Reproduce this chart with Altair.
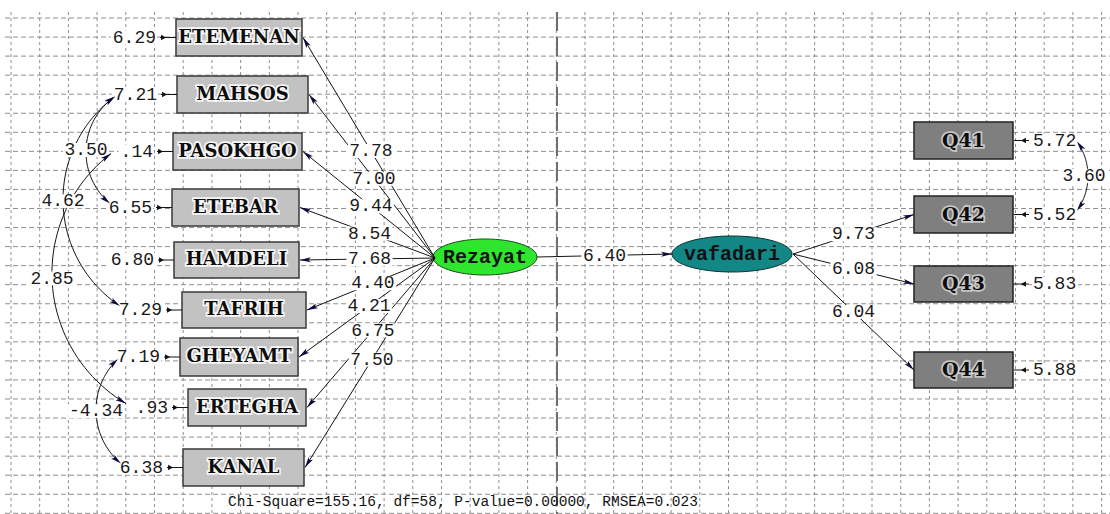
import math
import pandas as pd
import altair as alt

# ---------------- data ----------------
left_items = ["ETEMENAN", "MAHSOS", "PASOKHGO", "ETEBAR", "HAMDELI",
              "TAFRIH", "GHEYAMT", "ERTEGHA", "KANAL"]
left_tvalues = ["7.78", "7.00", "9.44", "8.54", "7.68", "4.40", "4.21", "6.75", "7.50"]
left_errors = ["6.29", "7.21", ".14", "6.55", "6.80", "7.29", "7.19", ".93", "6.38"]

right_items = ["Q41", "Q42", "Q43", "Q44"]
right_tvalues = ["", "9.73", "6.08", "6.04"]      # Q41 is the fixed reference path (not drawn)
right_errors = ["5.72", "5.52", "5.83", "5.88"]

latent_names = ["Rezayat", "vafadari"]
structural_tvalue = "6.40"

cov_from = ["MAHSOS", "MAHSOS", "PASOKHGO", "GHEYAMT", "Q41"]
cov_to = ["ETEBAR", "TAFRIH", "ERTEGHA", "KANAL", "Q42"]
cov_values = ["3.50", "4.62", "2.85", "-4.34", "3.60"]

fit_text = "Chi-Square=155.16, df=58, P-value=0.00000, RMSEA=0.023"

# ---------------- layout (pixels) ----------------
W, H = 1110, 514
left_box_x0 = [176, 177, 173, 172, 174, 182, 180, 188, 183]
left_box_x1 = [302, 308, 302, 299, 299, 306, 298, 306, 304]
left_box_y0 = [19, 76, 133, 189, 242, 292, 338, 389, 449]
left_box_y1 = [56, 113, 170, 226, 278, 328, 376, 426, 486]
right_box_x = (914, 1013)
right_box_y0 = [122, 196, 266, 352]
right_box_y1 = [159, 233, 302, 388]
lat_cx = [485, 732]
lat_cy = [257, 254]
lat_w = [104, 120]
lat_h = [36, 36]
cov_apex_x = [86, 63, 52, 96, 1088]
cov_label_dx = [0, 0, 0, 0, -4]
grid_x0, grid_dx, grid_nx = 11, 28.7, 39
grid_y0, grid_dy, grid_ny = 18, 19.05, 27
grid_top = 12
divider_x = 557
ERR_GAP = 20
NUM_FONT = "Liberation Mono"
NUM_SIZE = 18
CHAR_W = 0.6 * NUM_SIZE

XS = alt.Scale(domain=[0, W], nice=False, zero=False)
YS = alt.Scale(domain=[0, H], nice=False, zero=False, reverse=True)


def X(f):
    return alt.X(f, type="quantitative", scale=XS, axis=None)


def Y(f):
    return alt.Y(f, type="quantitative", scale=YS, axis=None)


def ang(dx, dy):
    return math.degrees(math.atan2(dx, -dy)) % 360


nodes = {}
for i, n in enumerate(left_items):
    nodes[n] = dict(x0=left_box_x0[i], x1=left_box_x1[i], y0=left_box_y0[i],
                    y1=left_box_y1[i], side="L")
for i, n in enumerate(right_items):
    nodes[n] = dict(x0=right_box_x[0], x1=right_box_x[1], y0=right_box_y0[i],
                    y1=right_box_y1[i], side="R")
for n in nodes.values():
    n["cx"] = (n["x0"] + n["x1"]) / 2
    n["cy"] = (n["y0"] + n["y1"]) / 2
    if n["side"] == "L":
        n["lab"] = n["x0"] - ERR_GAP
        n["tipx"] = n["lab"] - 42
    else:
        n["lab"] = n["x1"] + ERR_GAP
        n["tipx"] = n["lab"] + 44

lines, heads, small_heads, labels = [], [], [], []


def arrow(x0, y0, x1, y1, label=None, t=0.5):
    lines.append(dict(x=x0, y=y0, x2=x1, y2=y1))
    heads.append(dict(x=x1, y=y1, a=ang(x1 - x0, y1 - y0)))
    if label:
        labels.append(dict(t=label, x=x0 + t * (x1 - x0), y=y0 + t * (y1 - y0), al="center"))


# measurement paths, left latent
LX, LY = lat_cx[0] - lat_w[0] / 2 + 2, lat_cy[0] + 1
for i, n in enumerate(left_items):
    nd = nodes[n]
    arrow(LX, LY, nd["x1"] + 1, nd["cy"], left_tvalues[i], t=0.485)
# structural path
arrow(lat_cx[0] + lat_w[0] / 2, lat_cy[0], lat_cx[1] - lat_w[1] / 2, lat_cy[1], structural_tvalue, 0.5)
# measurement paths, right latent
RX, RY = lat_cx[1] + lat_w[1] / 2 + 1, lat_cy[1]
for i, n in enumerate(right_items):
    if right_tvalues[i]:
        nd = nodes[n]
        arrow(RX, RY, nd["x0"], nd["cy"], right_tvalues[i], 0.5)

# error terms
for names, errs in ((left_items, left_errors), (right_items, right_errors)):
    for n, e in zip(names, errs):
        nd = nodes[n]
        if nd["side"] == "L":
            labels.append(dict(t=e, x=nd["lab"], y=nd["cy"], al="right"))
            lines.append(dict(x=nd["lab"] + 4, y=nd["cy"], x2=nd["x0"], y2=nd["cy"]))
            small_heads.append(dict(x=nd["lab"] + 10, y=nd["cy"], a=90))
        else:
            labels.append(dict(t=e, x=nd["lab"], y=nd["cy"], al="left"))
            lines.append(dict(x=nd["x1"] + 1, y=nd["cy"], x2=nd["lab"] - 4, y2=nd["cy"]))
            small_heads.append(dict(x=nd["lab"] - 12, y=nd["cy"], a=270))


# covariance arcs (circle through both ends and the apex)
def circle_through(p1, p2, p3):
    ax, ay = p1
    bx, by = p2
    cx, cy = p3
    d = 2 * (ax * (by - cy) + bx * (cy - ay) + cx * (ay - by))
    ux = ((ax * ax + ay * ay) * (by - cy) + (bx * bx + by * by) * (cy - ay) + (cx * cx + cy * cy) * (ay - by)) / d
    uy = ((ax * ax + ay * ay) * (cx - bx) + (bx * bx + by * by) * (ax - cx) + (cx * cx + cy * cy) * (bx - ax)) / d
    return ux, uy, math.hypot(ax - ux, ay - uy)


arc_rows = []
TAU = 2 * math.pi
for k, (a, b, v) in enumerate(zip(cov_from, cov_to, cov_values)):
    na, nb = nodes[a], nodes[b]
    up = 2 if na["side"] == "L" else 1
    p1 = (na["tipx"], na["cy"] + up)
    p3 = (nb["tipx"], nb["cy"] - 4)
    p2 = (cov_apex_x[k], (p1[1] + p3[1]) / 2)
    ux, uy, R = circle_through(p1, p2, p3)
    a1 = math.atan2(p1[1] - uy, p1[0] - ux)
    a2 = math.atan2(p2[1] - uy, p2[0] - ux)
    a3 = math.atan2(p3[1] - uy, p3[0] - ux)
    d2, d3 = (a2 - a1) % TAU, (a3 - a1) % TAU
    span = d3 if d2 < d3 else d3 - TAU
    N = 48
    for i in range(N + 1):
        th = a1 + span * i / N
        arc_rows.append(dict(arc=k, o=i, x=ux + R * math.cos(th), y=uy + R * math.sin(th)))
    s = 1 if span > 0 else -1
    heads.append(dict(x=p3[0], y=p3[1], a=ang(-s * math.sin(a3), s * math.cos(a3))))
    heads.append(dict(x=p1[0], y=p1[1], a=ang(s * math.sin(a1), -s * math.cos(a1))))
    labels.append(dict(t=v, x=p2[0] + cov_label_dx[k], y=p2[1], al="center"))

# label backgrounds
bg_rows = []
for L in labels:
    w = len(L["t"]) * CHAR_W + 3
    if L["al"] == "center":
        x0 = L["x"] - w / 2
    elif L["al"] == "right":
        x0 = L["x"] - w + 1
    else:
        x0 = L["x"] - 1
    bg_rows.append(dict(x=x0, x2=x0 + w, y=L["y"] - 7, y2=L["y"] + 7))

# ---------------- frames ----------------
vgrid = pd.DataFrame({"x": [grid_x0 + grid_dx * k for k in range(grid_nx)]})
vgrid["y"], vgrid["y2"] = grid_top, H
hgrid = pd.DataFrame({"y": [grid_y0 + grid_dy * k for k in range(grid_ny)]})
hgrid["x"], hgrid["x2"] = 5, W
divider = pd.DataFrame({"x": [divider_x], "y": [grid_top], "y2": [H]})

lb = pd.DataFrame([dict(name=n, **{k: nodes[n][k] for k in ("x0", "x1", "y0", "y1", "cx", "cy")})
                   for n in left_items])
rb = pd.DataFrame([dict(name=n, **{k: nodes[n][k] for k in ("x0", "x1", "y0", "y1", "cx", "cy")})
                   for n in right_items])
lat = pd.DataFrame({"name": latent_names, "x": lat_cx, "y": lat_cy})

lines_df = pd.DataFrame(lines)
heads_df = pd.DataFrame(heads)
small_df = pd.DataFrame(small_heads)
arcs_df = pd.DataFrame(arc_rows)
lab_df = pd.DataFrame(labels)
bg_df = pd.DataFrame(bg_rows)
fit_df = pd.DataFrame({"t": [fit_text], "x": [463], "y": [502]})


def ellipse_path(k):
    c = 0.5523
    return (f"M-1,0C-1,{-k*c:.4f},{-c},{-k:.4f},0,{-k:.4f}"
            f"C{c},{-k:.4f},1,{-k*c:.4f},1,0"
            f"C1,{k*c:.4f},{c},{k:.4f},0,{k:.4f}"
            f"C{-c},{k:.4f},-1,{k*c:.4f},-1,0Z")


ARROW = "M0,0L0.42,1.8L0,1.4L-0.42,1.8Z"
SMALL = "M0,0L0.6,1.1L-0.6,1.1Z"

layers = []
layers.append(alt.Chart(vgrid).mark_rule(color="#8e8e8e", strokeWidth=1, strokeDash=[3, 3])
              .encode(x=X("x"), y=Y("y"), y2=alt.Y2("y2")))
layers.append(alt.Chart(hgrid).mark_rule(color="#8e8e8e", strokeWidth=1, strokeDash=[5, 3])
              .encode(y=Y("y"), x=X("x"), x2=alt.X2("x2")))
layers.append(alt.Chart(divider).mark_rule(color="#6e6e6e", strokeWidth=2, strokeDash=[19, 6])
              .encode(x=X("x"), y=Y("y"), y2=alt.Y2("y2")))
# boxes
layers.append(alt.Chart(lb).mark_rect(fill="#c2c2c2", stroke="#3a3a3a", strokeWidth=1.5)
              .encode(x=X("x0"), x2=alt.X2("x1"), y=Y("y0"), y2=alt.Y2("y1")))
layers.append(alt.Chart(rb).mark_rect(fill="#7f7f7f", stroke="#222222", strokeWidth=1.5)
              .encode(x=X("x0"), x2=alt.X2("x1"), y=Y("y0"), y2=alt.Y2("y1")))
# latent ellipses
fills = ["#2ee62e", "#138686"]
strokes = ["#1f4a1f", "#0b3434"]
for i in range(2):
    k = lat_h[i] / lat_w[i]
    layers.append(alt.Chart(lat.iloc[[i]]).mark_point(
        shape=ellipse_path(k), size=lat_w[i] ** 2, filled=True, fill=fills[i],
        stroke=strokes[i], strokeWidth=1, opacity=1, fillOpacity=1)
        .encode(x=X("x"), y=Y("y")))
layers.append(alt.Chart(lat).mark_text(font=NUM_FONT, fontWeight="bold", fontSize=20,
                                       color="#111111", baseline="middle")
              .encode(x=X("x"), y=Y("y"), text=alt.Text("name:N")))
# box labels with halo
for df, halo, size in ((lb, "#ffffff", 18), (rb, "#d4d4d4", 19)):
    layers.append(alt.Chart(df).mark_text(font="DejaVu Serif", fontWeight="bold", fontSize=size,
                                          baseline="middle", fill=halo, stroke=halo,
                                          strokeWidth=3.5, strokeOpacity=0.85)
                  .encode(x=X("cx"), y=Y("cy"), text=alt.Text("name:N")))
    layers.append(alt.Chart(df).mark_text(font="DejaVu Serif", fontWeight="bold", fontSize=size,
                                          baseline="middle", color="#0d0d0d")
                  .encode(x=X("cx"), y=Y("cy"), text=alt.Text("name:N")))
# paths
layers.append(alt.Chart(lines_df).mark_rule(color="#141414", strokeWidth=1)
              .encode(x=X("x"), y=Y("y"), x2=alt.X2("x2"), y2=alt.Y2("y2")))
layers.append(alt.Chart(arcs_df).mark_line(color="#141414", strokeWidth=1)
              .encode(x=X("x"), y=Y("y"), detail="arc:N", order="o:Q"))
# label backgrounds + labels
layers.append(alt.Chart(bg_df).mark_rect(fill="white")
              .encode(x=X("x"), x2=alt.X2("x2"), y=Y("y"), y2=alt.Y2("y2")))
for al in ("left", "center", "right"):
    sub = lab_df[lab_df["al"] == al]
    if len(sub):
        layers.append(alt.Chart(sub).mark_text(font=NUM_FONT, fontSize=NUM_SIZE, align=al,
                                               baseline="middle", color="#1a1a1a")
                      .encode(x=X("x"), y=Y("y"), text=alt.Text("t:N")))
layers.append(alt.Chart(fit_df).mark_text(font=NUM_FONT, fontSize=14.5, baseline="middle",
                                          color="#111111")
              .encode(x=X("x"), y=Y("y"), text=alt.Text("t:N")))
# arrowheads
layers.append(alt.Chart(heads_df).mark_point(shape=ARROW, size=144, filled=True, fill="#0a0a3c",
                                             strokeWidth=0, opacity=1)
              .encode(x=X("x"), y=Y("y"), angle=alt.Angle("a:Q", scale=None)))
layers.append(alt.Chart(small_df).mark_point(shape=SMALL, size=81, filled=True, fill="#111111",
                                             strokeWidth=0, opacity=1)
              .encode(x=X("x"), y=Y("y"), angle=alt.Angle("a:Q", scale=None)))

chart = (alt.layer(*layers)
         .properties(width=W, height=H, autosize=alt.AutoSizeParams(type="none"),
                     padding=0, background="white")
         .configure_view(stroke=None))

chart.save("out.html", embed_options={"renderer": "svg", "actions": False})
